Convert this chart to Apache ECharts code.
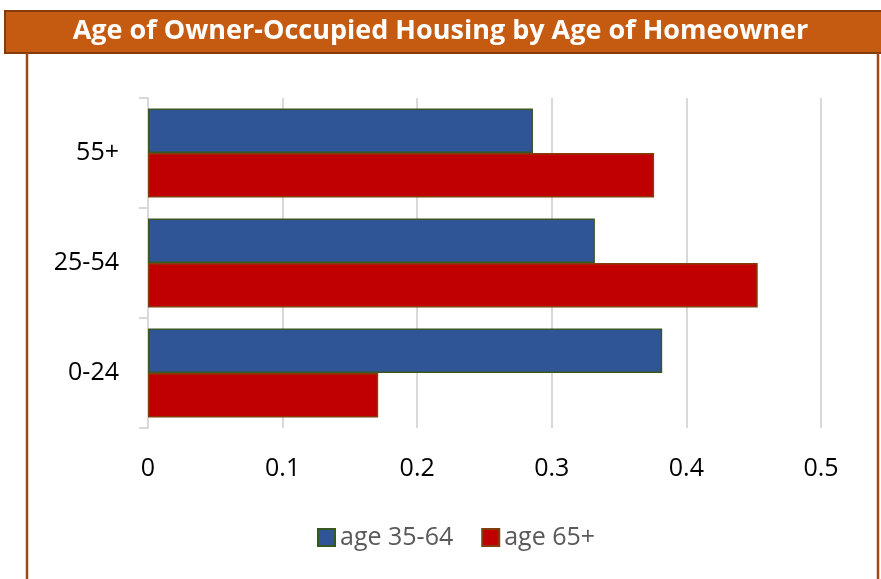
<!DOCTYPE html>
<html>
<head>
<meta charset="utf-8">
<script src="https://cdn.jsdelivr.net/npm/echarts@6/dist/echarts.min.js"></script>
<style>
  html, body { margin: 0; padding: 0; background: #fff; }
  #housing-age-chart { width: 881px; height: 579px; }
</style>
</head>
<body>
<div id="housing-age-chart"></div>
<script>
// 住宅年龄分组（自下而上）
const categories = ['0-24', '25-54', '55+']
// 两个户主年龄组的占比
const age3564 = [0.382, 0.332, 0.286]
const age65plus = [0.171, 0.453, 0.376]
const seriesNames = ['age 35-64', 'age 65+']
const xTicks = [0, 0.1, 0.2, 0.3, 0.4, 0.5]

const myChart = echarts.init(document.getElementById('housing-age-chart'))
const fontFamily = '"Open Sans", "Noto Sans", sans-serif'

const option = {
  animation: false,
  title: {
    text: 'Age of Owner-Occupied Housing by Age of Homeowner',
    left: 'center',
    top: 13,
    textStyle: {
      color: '#ffffff',
      fontFamily: fontFamily,
      fontWeight: 'bold',
      fontSize: 27
    }
  },
  graphic: [
    {
      // 标题背景条
      type: 'rect',
      z: -1,
      shape: { x: 5, y: 11, width: 886, height: 42 },
      style: { fill: '#C55A11', stroke: '#843C0C', lineWidth: 2 }
    },
    {
      // 外框左右两条线
      type: 'polyline',
      shape: { points: [[27, 53], [27, 590]] },
      style: { stroke: '#9C4A17', lineWidth: 2.5 }
    },
    {
      type: 'polyline',
      shape: { points: [[878, 53], [878, 590]] },
      style: { stroke: '#9C4A17', lineWidth: 2.5 }
    }
  ],
  legend: {
    data: seriesNames,
    top: 520,
    left: 312,
    itemWidth: 17,
    itemHeight: 17,
    itemGap: 28,
    icon: 'rect',
    textStyle: {
      color: '#595959',
      fontFamily: fontFamily,
      fontSize: 25
    }
  },
  grid: {
    left: 148,
    right: 60,
    top: 98,
    bottom: 151
  },
  xAxis: {
    type: 'value',
    min: 0,
    max: 0.5,
    interval: 0.1,
    axisLabel: {
      margin: 28,
      color: '#000000',
      fontFamily: fontFamily,
      fontSize: 25,
      formatter: (v) => String(xTicks.find(t => Math.abs(t - v) < 1e-9) ?? v)
    },
    axisLine: { show: false },
    axisTick: { show: false },
    splitLine: {
      show: true,
      lineStyle: { color: '#D9D9D9', width: 2 }
    }
  },
  yAxis: {
    type: 'category',
    data: categories,
    axisLabel: {
      margin: 29,
      color: '#000000',
      fontFamily: fontFamily,
      fontSize: 25
    },
    axisLine: {
      show: true,
      lineStyle: { color: '#D9D9D9', width: 2 }
    },
    axisTick: {
      show: true,
      length: 9,
      lineStyle: { color: '#D9D9D9', width: 2 }
    }
  },
  series: [
    {
      name: seriesNames[0],
      type: 'bar',
      data: age3564,
      barGap: '0%',
      barCategoryGap: '19%',
      itemStyle: {
        color: '#2F5597',
        borderColor: '#385723',
        borderWidth: 1.5
      }
    },
    {
      name: seriesNames[1],
      type: 'bar',
      data: age65plus,
      barGap: '0%',
      barCategoryGap: '19%',
      itemStyle: {
        color: '#C00000',
        borderColor: '#843C0C',
        borderWidth: 1.5
      }
    }
  ]
}
myChart.setOption(option)
</script>
</body>
</html>
